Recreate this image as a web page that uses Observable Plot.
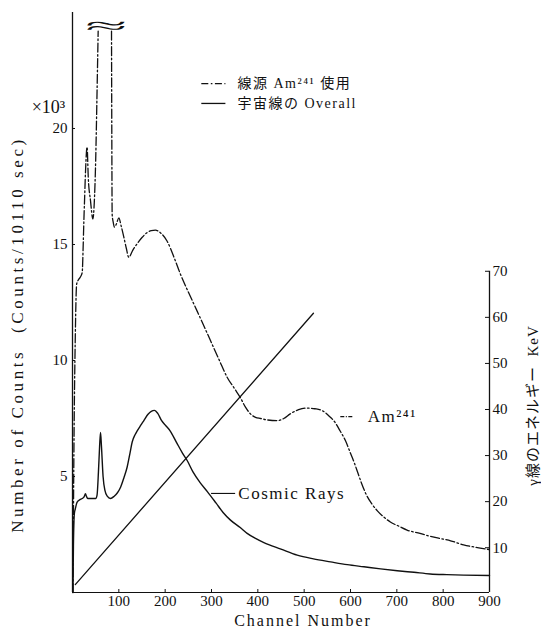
<!DOCTYPE html>
<html>
<head>
<meta charset="utf-8">
<script src="https://cdn.jsdelivr.net/npm/d3@7"></script>
<script src="https://cdn.jsdelivr.net/npm/@observablehq/plot@0.6"></script>
<style>
  html, body { margin: 0; padding: 0; background: #fff; }
  #chart { width: 541px; height: 642px; }
</style>
</head>
<body>
<div id="chart"></div>
<script>
// ---------- data ----------
const channelTicks = [100, 200, 300, 400, 500, 600, 700, 800, 900];
const countTicks = [5, 10, 15, 20];
const keVTicks = [10, 20, 30, 40, 50, 60, 70];

// Am-241 source spectrum (counts x10^3 / 10110 sec); null = broken-off top of the two big peaks
const amChannel = [
  1, 3, 6, 9, 13.6, 17, 21, 23, 24.5, 26,
  28, 31.5, 34, 38.8, 44, 47, 50, 53, 55.4, 70,
  84.2, 84.8, 85.6, 88, 90.6, 95, 100, 105, 111, 116,
  121.5, 130, 140, 150, 160, 170, 179, 190, 204, 220,
  233, 250, 262, 280, 298, 316, 334, 350, 362, 373,
  384, 395, 406, 420, 442, 456, 470, 488, 506, 523,
  539, 554, 566, 578, 589, 600, 608, 616, 624, 634,
  645, 658, 672, 686, 705, 722, 750, 772, 800, 816,
  844, 870, 900
];
const amCounts = [
  0, 6, 11, 13.3, 13.5, 13.6, 13.8, 14.9, 16.0, 16.9,
  18.1, 19.2, 17.9, 16.9, 16.1, 16.8, 18.6, 21.6, 24.2, null,
  24.2, 20.0, 16.3, 15.95, 15.75, 15.9, 16.15, 15.8, 15.3, 14.85,
  14.45, 14.75, 15.05, 15.3, 15.5, 15.6, 15.62, 15.5, 15.15, 14.4,
  13.72, 12.95, 12.43, 11.65, 10.85, 10.05, 9.27, 8.78, 8.41, 8.0,
  7.7, 7.55, 7.5, 7.44, 7.41, 7.5, 7.7, 7.88, 7.95, 7.92,
  7.84, 7.6, 7.35, 6.95, 6.55, 6.0, 5.6, 5.15, 4.7, 4.22,
  3.85, 3.52, 3.25, 3.04, 2.85, 2.69, 2.55, 2.42, 2.3, 2.23,
  2.05, 1.95, 1.85
];

// cosmic-ray overall spectrum
const cosmicChannel = [
  1, 2, 4, 6, 10, 16, 21, 25, 28, 30,
  33, 40, 50, 53, 56, 58.5, 60.5, 62.5, 66, 70,
  75, 82, 90, 97, 104, 111, 118, 124, 129, 135,
  140, 147, 154, 163, 170, 177, 184, 192, 201, 211,
  225, 237, 247.5, 260, 275, 291, 310, 325, 341, 362,
  377, 395, 413, 450, 485, 520, 557, 593, 629, 665,
  701, 737, 772, 808, 844, 900
];
const cosmicCounts = [
  0, 2.0, 3.4, 3.6, 3.9, 4.0, 4.05, 4.12, 4.26, 4.15,
  4.05, 4.05, 4.05, 4.2, 5.2, 6.3, 6.9, 6.3, 5.0, 4.4,
  4.15, 4.05, 4.15, 4.3, 4.55, 4.95, 5.41, 6.0, 6.5, 6.8,
  6.98, 7.2, 7.41, 7.68, 7.81, 7.85, 7.72, 7.42, 7.2, 6.96,
  6.45, 6.02, 5.69, 5.2, 4.75, 4.35, 3.85, 3.45, 3.12, 2.8,
  2.55, 2.33, 2.15, 1.87, 1.61, 1.45, 1.32, 1.2, 1.11, 1.02,
  0.94, 0.87, 0.8, 0.77, 0.75, 0.73
];

// energy calibration line (right axis, keV)
const energyChannel = [6, 520];
const energyKeV = [2.0, 60.9];

// texts
const legendLabels = ["線源 Am²⁴¹ 使用", "宇宙線の Overall"];
const curveLabels = ["Am²⁴¹", "Cosmic Rays"];
const xTitle = "Channel Number";
const yTitle = "Number of Counts  (Counts/10110 sec)";
const y2Title = "γ線のエネルギー  KeV";
const unitLabel = "×10³";
const breakMark = "≈";

// ---------- layout (positions, not data) ----------
const kev2y = e => e * 0.1986 - 0.056;             // right-axis keV -> left-axis units
const y2kev = v => Math.round((v + 0.056) / 0.1986);
const legendSymbolX = [278, 330], legendTextX = 356, legendY = [21.93, 21.08];
const amLabelPos = {x1: 578, x2: 607, tx: 637, y: 7.58};
const crLabelPos = {x1: 299, x2: 351, tx: 358, y: 4.27};
const breakPos = {x: 73, y: 24.42};

const FONT = '"Liberation Serif","DejaVu Serif","Noto Sans CJK JP",serif';
const DASHDOT = "9,2.5,1.6,2.5";

const am = amChannel.map((c, i) => ({c, v: amCounts[i]}));
const cosmic = cosmicChannel.map((c, i) => ({c, v: cosmicCounts[i]}));
const energy = energyChannel.map((c, i) => ({c, e: energyKeV[i]}));
const legend = legendLabels.map((label, i) => ({label, y: legendY[i]}));

const plot = Plot.plot({
  width: 541,
  height: 642,
  marginLeft: 72,
  marginRight: 52,
  marginTop: 12,
  marginBottom: 50,
  x: {domain: [0, 900]},
  y: {domain: [0, 25]},
  style: {fontFamily: FONT, fontSize: "15px", background: "#fff", color: "#111", overflow: "visible"},
  marks: [
    // axes frame
    Plot.ruleX([0], {y1: 0, y2: 25, strokeWidth: 1.3}),
    Plot.ruleY([0], {x1: 0, x2: 900, strokeWidth: 1.1}),
    Plot.ruleX([900], {y1: 0, y2: kev2y(70), strokeWidth: 1.3}),
    Plot.ruleY(keVTicks, {y: kev2y, x1: 900, x2: 900, insetLeft: -4, strokeWidth: 1}),
    Plot.ruleY(countTicks, {x1: 0, x2: 0, insetRight: -3, strokeWidth: 1}),
    Plot.ruleX(channelTicks, {y1: 0, y2: 0, insetTop: -3, strokeWidth: 1}),
    Plot.axisX(channelTicks, {tickSize: 0, tickPadding: 3, label: null, fontSize: 15}),
    Plot.axisY(countTicks, {anchor: "left", tickSize: 0, tickPadding: 5, label: null, fontSize: 15}),
    Plot.axisY(keVTicks.map(kev2y), {anchor: "right", tickSize: 0, tickPadding: 3, tickFormat: y2kev, label: null, fontSize: 15}),

    // curves
    Plot.line(cosmic, {x: "c", y: "v", curve: "monotone-x", strokeWidth: 1.4}),
    Plot.line(am, {x: "c", y: "v", curve: "monotone-x", strokeWidth: 1.3, strokeDasharray: DASHDOT}),
    Plot.line(energy, {x: "c", y: d => kev2y(d.e), strokeWidth: 1.3}),

    // break symbol over the off-scale peaks
    Plot.text([breakMark], {x: breakPos.x, y: breakPos.y, text: d => d, fontSize: 22}),

    // curve labels
    Plot.link([amLabelPos], {x1: "x1", x2: "x2", y1: "y", y2: "y", strokeWidth: 1.1, strokeDasharray: "4,1.5,1,1.5"}),
    Plot.text([curveLabels[0]], {x: amLabelPos.tx, y: amLabelPos.y, text: d => d, textAnchor: "start", fontSize: 17}),
    Plot.link([crLabelPos], {x1: "x1", x2: "x2", y1: "y", y2: "y", strokeWidth: 1.1}),
    Plot.text([curveLabels[1]], {x: crLabelPos.tx, y: crLabelPos.y, text: d => d, textAnchor: "start", fontSize: 17}),

    // legend
    Plot.link([legend[0]], {x1: legendSymbolX[0], x2: legendSymbolX[1], y1: "y", y2: "y", strokeWidth: 1.3, strokeDasharray: "7,2.5,1.6,2.5"}),
    Plot.link([legend[1]], {x1: legendSymbolX[0], x2: legendSymbolX[1], y1: "y", y2: "y", strokeWidth: 1.3}),
    Plot.text(legend, {x: legendTextX, y: "y", text: "label", textAnchor: "start", fontSize: 14}),

    // titles
    Plot.text([unitLabel], {frameAnchor: "top-left", dx: -24, dy: 88, text: d => d, textAnchor: "middle", fontSize: 18}),
    Plot.text([yTitle], {frameAnchor: "left", dx: -55, dy: 32, rotate: -90, text: d => d, textAnchor: "middle", fontSize: 17}),
    Plot.text([xTitle], {frameAnchor: "bottom", dx: 22, dy: 33, text: d => d, textAnchor: "middle", fontSize: 16}),
    Plot.text([y2Title], {frameAnchor: "right", dx: 44, dy: 103, rotate: -90, text: d => d, textAnchor: "middle", fontSize: 15})
  ]
});

document.getElementById("chart").appendChild(plot);

// letter spacing / stretching tweaks
const spacing = new Map([
  [yTitle, "3.6px"], [xTitle, "2px"], [y2Title, "1px"],
  [curveLabels[1], "1.5px"], [curveLabels[0], "1.5px"],
  [legendLabels[0], "1.5px"], [legendLabels[1], "1.5px"]
]);
d3.select(plot).selectAll("text").each(function() {
  const t = this.textContent;
  if (spacing.has(t)) d3.select(this).style("letter-spacing", spacing.get(t));
  if (t === breakMark) d3.select(this).attr("textLength", 42).attr("lengthAdjust", "spacingAndGlyphs");
});
</script>
</body>
</html>
